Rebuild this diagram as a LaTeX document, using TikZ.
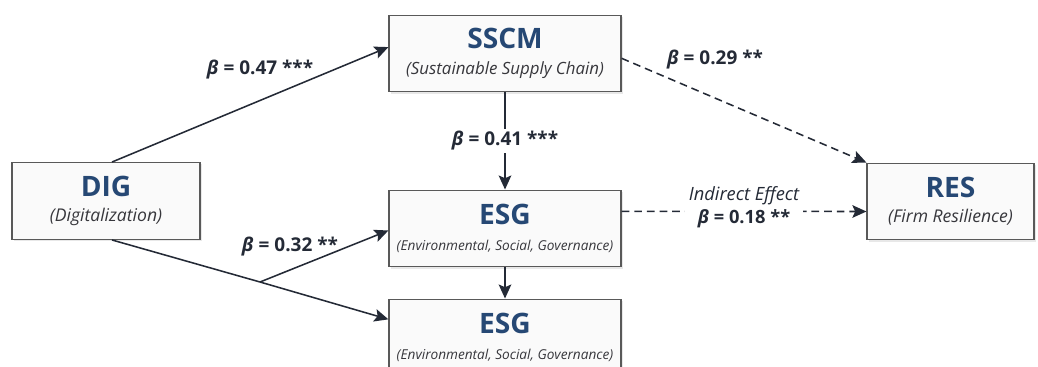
\documentclass[tikz,border=0pt]{standalone}
\usepackage{fontspec}
\setmainfont{Open Sans}
\usepackage{xcolor}
\definecolor{titleblue}{RGB}{38,72,116}
\definecolor{linedark}{RGB}{36,42,54}
\definecolor{subgray}{RGB}{55,55,60}
\usetikzlibrary{arrows.meta, shadows}

\newcommand{\boxtext}[3]{%
  {\fontsize{20}{22}\selectfont\bfseries\color{titleblue}#1}\\[4pt]
  {\fontsize{#3}{14}\selectfont\itshape\color{subgray}#2}}

\begin{document}
\begin{tikzpicture}[x=0.025cm, y=-0.025cm,
          box/.style={
              draw=black!65,
              fill=black!2,
              line width=0.8pt,
              minimum height=1.92cm,
              align=center,
              font=\fontsize{12}{14}\selectfont,
              drop shadow={shadow xshift=1.2pt, shadow yshift=-1.2pt, opacity=0.18}
            },
          arr/.style={-{Stealth[length=10pt, width=9pt, inset=2pt]}, linedark, line width=1.1pt},
          dasharr/.style={arr, dash pattern=on 5.5pt off 3.5pt},
          beta/.style={font=\fontsize{13.5}{16}\selectfont\bfseries, text=linedark, inner sep=2pt}
        ]
        \useasboundingbox (0,0) rectangle (1038,367);

        \node[box, minimum width=4.7cm] (dig) at (106,201) {\boxtext{DIG}{(Digitalization)}{12.5}};
        \node[box, minimum width=5.8cm] (sscm) at (505,53.5) {\boxtext{SSCM}{(Sustainable Supply Chain)}{12}};
        \node[box, minimum width=5.8cm] (esg) at (505,228.5) {\boxtext{ESG}{(Environmental, Social, Governance)}{9.7}};
        \node[box, minimum width=5.8cm] (esg_b) at (505,337.5) {\boxtext{ESG}{(Environmental, Social, Governance)}{9.7}};
        \node[box, minimum width=4.175cm] (res) at (950.5,201.5) {\boxtext{RES}{(Firm Resilience)}{12.5}};

        \coordinate (fork) at (260,282);

        % direct paths
        \draw[arr] ([xshift=0.15cm]dig.north) -- ([yshift=0.16cm]sscm.west);
        \draw[arr] (sscm.south) -- node[beta, fill=white, pos=0.5] {\itshape β\upshape{} = 0.41 ***} (esg.north);
        \draw[arr] (esg.south) -- (esg_b.north);
        \draw[linedark, line width=1.1pt] ([xshift=0.15cm]dig.south) -- (fork);
        \draw[arr] (fork) -- ([yshift=-0.52cm]esg_b.north west);
        \draw[arr] (fork) -- ([yshift=-0.05cm]esg.west);

        % paths to resilience
        \draw[dasharr] ([yshift=-0.12cm]sscm.east) -- (res.north west);
        \draw[dasharr] ([yshift=0.43cm]esg.east) -- node[fill=white, align=center, inner sep=3pt, text=linedark,
            font=\fontsize{13}{16}\selectfont, yshift=3pt]
          {\itshape Indirect Effect\\
           \bfseries\itshape β\upshape{} = 0.18 **} ([yshift=-0.25cm]res.west);

        % coefficients
        \node[beta] (b_dig_sscm) at (260,70) {\itshape β\upshape{} = 0.47 ***};
        \node[beta] (b_sscm_res) at (715,60) {\itshape β\upshape{} = 0.29 **};
        \node[beta] (b_dig_esg) at (290,247) {\itshape β\upshape{} = 0.32 **};
      \end{tikzpicture}
\end{document}
